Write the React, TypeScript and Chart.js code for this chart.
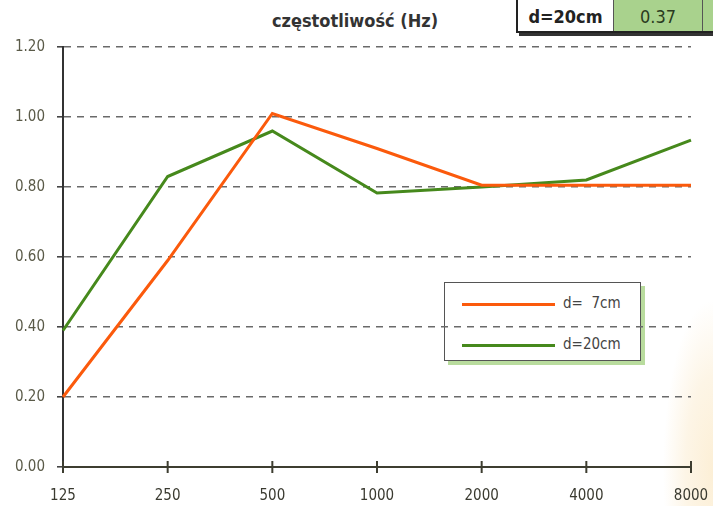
import React, { useEffect, useRef } from "react";
import { Chart, registerables } from "chart.js";

Chart.register(...registerables);

const categories = ["125", "250", "500", "1000", "2000", "4000", "8000"];
const seriesNames = ["d=  7cm", "d=20cm"];
const series7cm = [0.2, 0.59, 1.01, 0.91, 0.805, 0.805, 0.805];
const series20cm = [0.39, 0.83, 0.96, 0.783, 0.8, 0.82, 0.934];
const yTicks = [0, 0.2, 0.4, 0.6, 0.8, 1.0, 1.2];
const titleText = "częstotliwość (Hz)";
const tableLabel = "d=20cm";
const tableValue = "0.37";

const ORANGE = "#fb5a0c";
const GREEN = "#46891c";
const FONT = "'DejaVu Sans Condensed', 'Liberation Sans Narrow', 'DejaVu Sans', sans-serif";

const tickMarks = {
  id: "tickMarks",
  afterDraw(chart: any) {
    const ctx = chart.ctx;
    const xs = chart.scales.x;
    const y0 = chart.scales.y.getPixelForValue(0);
    ctx.save();
    ctx.strokeStyle = "#3d3d30";
    ctx.lineWidth = 2;
    for (let i = 0; i < categories.length; i++) {
      const x = xs.getPixelForValue(i);
      ctx.beginPath();
      ctx.moveTo(x, y0 - 6);
      ctx.lineTo(x, y0 + 6);
      ctx.stroke();
    }
    ctx.restore();
  },
};

export default function App() {
  const ref = useRef<HTMLCanvasElement>(null);
  useEffect(() => {
    if (!ref.current) return;
    const chart = new Chart(ref.current, {
      type: "line",
      data: {
        labels: categories,
        datasets: [
          {
            label: seriesNames[0],
            data: series7cm,
            borderColor: ORANGE,
            borderWidth: 3,
            pointRadius: 0,
            tension: 0,
          },
          {
            label: seriesNames[1],
            data: series20cm,
            borderColor: GREEN,
            borderWidth: 3,
            pointRadius: 0,
            tension: 0,
          },
        ],
      },
      options: {
        responsive: false,
        animation: false,
        devicePixelRatio: 1,
        layout: { padding: { top: 47, right: 0, left: 0, bottom: 0 } },
        plugins: { legend: { display: false }, tooltip: { enabled: false }, title: { display: false } },
        scales: {
          x: {
            type: "category",
            offset: false,
            grid: { display: false },
            border: { display: true, color: "#3d3d30", width: 2 },
            ticks: {
              color: "#3a3a30",
              font: { family: FONT, size: 15 },
              padding: 12,
              maxRotation: 0,
              autoSkip: false,
            },
            afterFit(scale: any) {
              scale.height = 39;
              scale.paddingRight = 22;
            },
          },
          y: {
            min: 0,
            max: 1.2,
            afterBuildTicks(scale: any) {
              scale.ticks = yTicks.map((v) => ({ value: v }));
            },
            grid: {
              color: "#6a6a6a",
              lineWidth: 1.6,
              tickLength: 6,
              tickColor: "#444",
              tickBorderDash: [],
            },
            border: { display: true, color: "#333", width: 2, dash: [7, 6] },
            ticks: {
              color: "#5a5a48",
              font: { family: FONT, size: 15 },
              padding: 12,
              callback: (v: any) => Number(v).toFixed(2),
            },
            afterFit(scale: any) {
              scale.width = 63;
            },
          },
        },
      },
      plugins: [tickMarks],
    } as any);
    return () => chart.destroy();
  }, []);

  return (
    <div
      style={{
        position: "fixed",
        left: 0,
        top: 0,
        width: 713,
        height: 506,
        overflow: "hidden",
        background:
          "radial-gradient(ellipse 50px 170px at 713px 470px, #fcefd6 0%, #fdf5e6 55%, rgba(255,255,255,0) 100%), #ffffff",
        fontFamily: FONT,
      }}
    >
      <div
        style={{
          position: "absolute",
          left: 260,
          top: 10,
          width: 190,
          textAlign: "center",
          fontWeight: "bold",
          fontSize: 18,
          color: "#333",
        }}
      >
        {titleText}
      </div>
      <div
        style={{
          position: "absolute",
          left: 516,
          top: -4,
          width: 210,
          height: 33,
          border: "2px solid #222",
          boxShadow: "3px 3px 0 #333",
          background: "#fff",
          display: "flex",
        }}
      >
        <div
          style={{
            width: 95,
            display: "flex",
            alignItems: "center",
            justifyContent: "center",
            fontWeight: "bold",
            fontSize: 18,
            color: "#222",
            paddingTop: 3,
          }}
        >
          {tableLabel}
        </div>
        <div
          style={{
            width: 88,
            background: "#a9d28d",
            borderLeft: "1px solid #555",
            display: "flex",
            alignItems: "center",
            justifyContent: "center",
            fontSize: 18,
            color: "#2a3a20",
            paddingTop: 3,
          }}
        >
          {tableValue}
        </div>
        <div style={{ flex: 1, background: "#a9d28d", borderLeft: "1px solid #555" }} />
      </div>
      <div
        style={{
          position: "absolute",
          left: 444,
          top: 282,
          width: 195,
          height: 77,
          border: "1.5px solid #555",
          background: "#fff",
          boxShadow: "4px 4px 0 #b9dc9e",
        }}
      >
        <div style={{ position: "absolute", left: 17, top: 20, width: 93, height: 3, background: ORANGE }} />
        <div style={{ position: "absolute", left: 118, top: 11, fontSize: 15, color: "#444", whiteSpace: "pre" }}>
          {seriesNames[0]}
        </div>
        <div style={{ position: "absolute", left: 17, top: 61, width: 93, height: 3, background: GREEN }} />
        <div style={{ position: "absolute", left: 118, top: 52, fontSize: 15, color: "#444", whiteSpace: "pre" }}>
          {seriesNames[1]}
        </div>
      </div>
      <canvas ref={ref} width={713} height={506} style={{ position: "absolute", left: 0, top: 0 }} />
    </div>
  );
}
